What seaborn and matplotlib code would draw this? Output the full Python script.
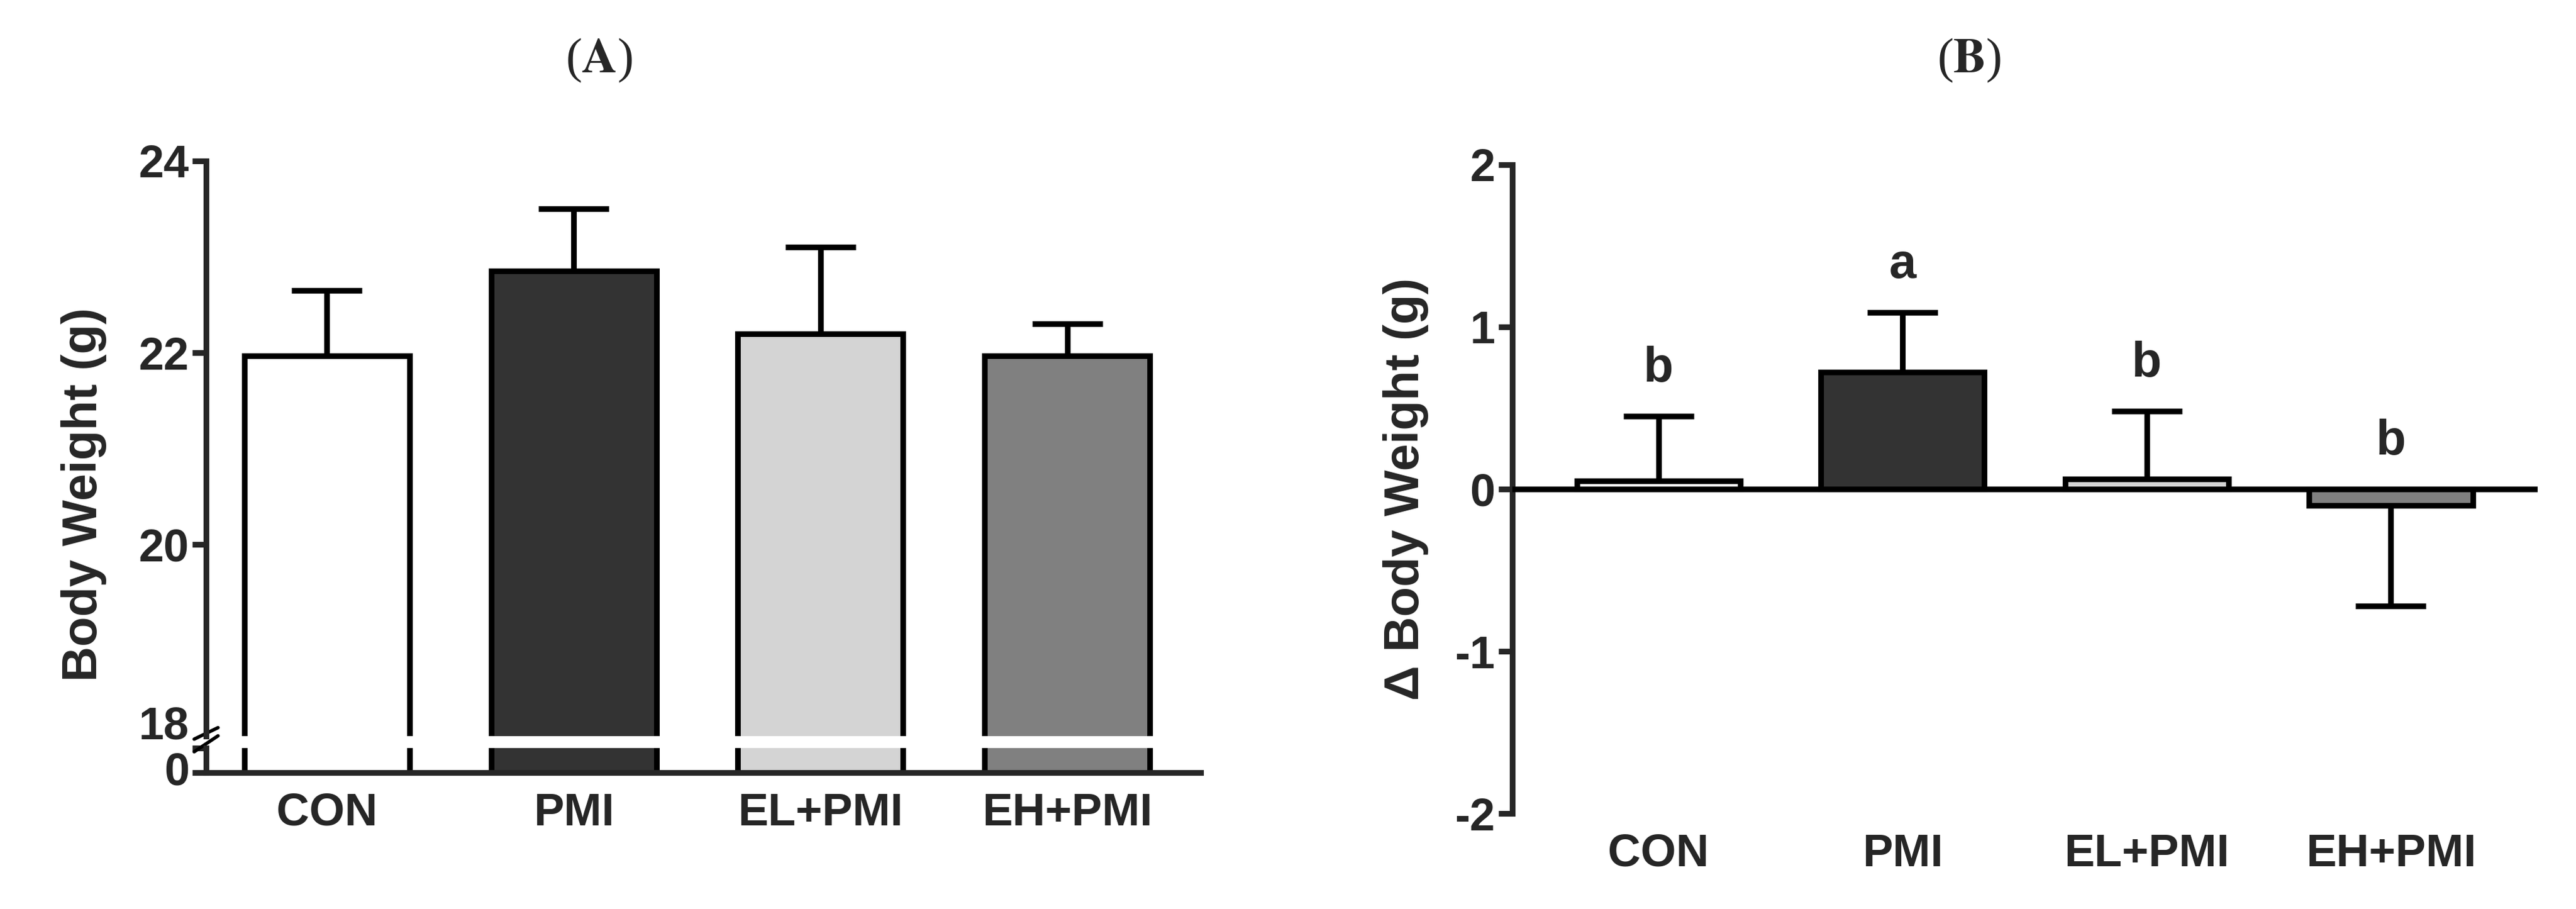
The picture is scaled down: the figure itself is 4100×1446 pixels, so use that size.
import matplotlib
matplotlib.use("Agg")
import matplotlib.pyplot as plt
import seaborn as sns
import pandas as pd
import numpy as np

groups = ["CON", "PMI", "EL+PMI", "EH+PMI"]
colors = ["#ffffff", "#333333", "#d4d4d4", "#808080"]
bw_mean = [21.97, 22.85, 22.2, 21.97]
bw_err = [0.68, 0.65, 0.9, 0.33]
dbw_mean = [0.05, 0.72, 0.06, -0.1]
dbw_err = [0.4, 0.37, 0.42, -0.62]
letters = ["b", "a", "b", "b"]

sns.set_style("ticks")
plt.rcParams['font.family'] = ['Liberation Sans', 'DejaVu Sans']
plt.rcParams['axes.unicode_minus'] = False
LW = 6.5
FS = 52

fig = plt.figure(figsize=(41, 14.46), dpi=100)
axA = fig.add_axes([0.080, 0.19, 0.386, 0.633])
axA0 = fig.add_axes([0.080, 0.150, 0.386, 0.027], sharex=axA)
axB = fig.add_axes([0.587, 0.105, 0.398, 0.714])

dfA = pd.DataFrame({"g": groups, "v": bw_mean})
dfB = pd.DataFrame({"g": groups, "v": dbw_mean})

def bars(ax, df):
    sns.barplot(data=df, x="g", y="v", hue="g", palette=colors, ax=ax,
                width=0.67, edgecolor="black", linewidth=LW, legend=False,
                errorbar=None, zorder=2)

for ax in (axA, axA0):
    bars(ax, dfA)
x = np.arange(len(groups))
up = np.vstack([np.zeros(4), bw_err])
axA.errorbar(x, bw_mean, yerr=up, fmt="none", ecolor="black", elinewidth=LW,
             capsize=40, capthick=LW, zorder=1)
axA.set_ylim(18, 24)
axA.set_yticks([20, 22, 24])
axA0.set_ylim(0, 18)
axA0.set_yticks([0, 18])
axA.set_xlim(-0.49, 3.54)
for ax in (axA, axA0):
    for s in ["top", "right"]:
        ax.spines[s].set_visible(False)
    ax.spines["left"].set_linewidth(LW)
    ax.tick_params(width=LW, length=16, labelsize=FS)
    for t in ax.get_yticklabels():
        t.set_fontweight("bold")
    ax.set_ylabel("")
    ax.set_xlabel("")
axA0.get_yticklabels()[1].set_va("bottom")
axA0.get_yticklabels()[0].set_va("center")
axA.spines["bottom"].set_visible(False)
axA.tick_params(axis="x", bottom=False, labelbottom=False)
axA0.spines["bottom"].set_linewidth(LW)
axA0.tick_params(axis="x", length=0, pad=22)
for t in axA0.get_xticklabels():
    t.set_fontweight("bold")
axA.set_ylabel("Body Weight (g)", fontsize=FS + 4, fontweight="bold")
axA.yaxis.set_label_coords(-0.1, 0.42)
d = 0.012
kw = dict(color="black", clip_on=False, lw=LW * 0.6)
axA.plot([-d, d], [-0.005, 0.015], transform=axA.transAxes, **kw)
axA0.plot([-d, d], [0.85, 1.5], transform=axA0.transAxes, **kw)

bars(axB, dfB)
errB = [[0 if e > 0 else -e for e in dbw_err], [e if e > 0 else 0 for e in dbw_err]]
axB.errorbar(x, dbw_mean, yerr=errB, fmt="none", ecolor="black", elinewidth=LW,
             capsize=40, capthick=LW, zorder=1)
axB.axhline(0, color="black", lw=LW, zorder=3)
axB.set_ylim(-2, 2)
axB.set_yticks([-2, -1, 0, 1, 2])
axB.set_xlim(-0.6, 3.6)
for s in ["top", "right", "bottom"]:
    axB.spines[s].set_visible(False)
axB.spines["left"].set_linewidth(LW)
axB.tick_params(width=LW, length=16, labelsize=FS)
axB.tick_params(axis="x", length=0, pad=22)
for t in axB.get_xticklabels() + axB.get_yticklabels():
    t.set_fontweight("bold")
axB.set_xlabel("")
axB.set_ylabel("Δ Body Weight (g)", fontsize=FS + 4, fontweight="bold", labelpad=30)
for i, (m, e, l) in enumerate(zip(dbw_mean, dbw_err, letters)):
    top = m + e if e > 0 else max(m, 0)
    axB.text(i, top + 0.15, l, ha="center", va="bottom", fontsize=FS + 4, fontweight="bold")

for xc, lab in [(0.2325, "A"), (0.7645, "B")]:
    fig.text(xc, 0.92, r"($\mathbf{" + lab + r"}$)", fontsize=FS + 4,
             family="Liberation Serif", ha="center", math_fontfamily="stix")

fig.savefig("out.png", dpi=100, facecolor="white")
